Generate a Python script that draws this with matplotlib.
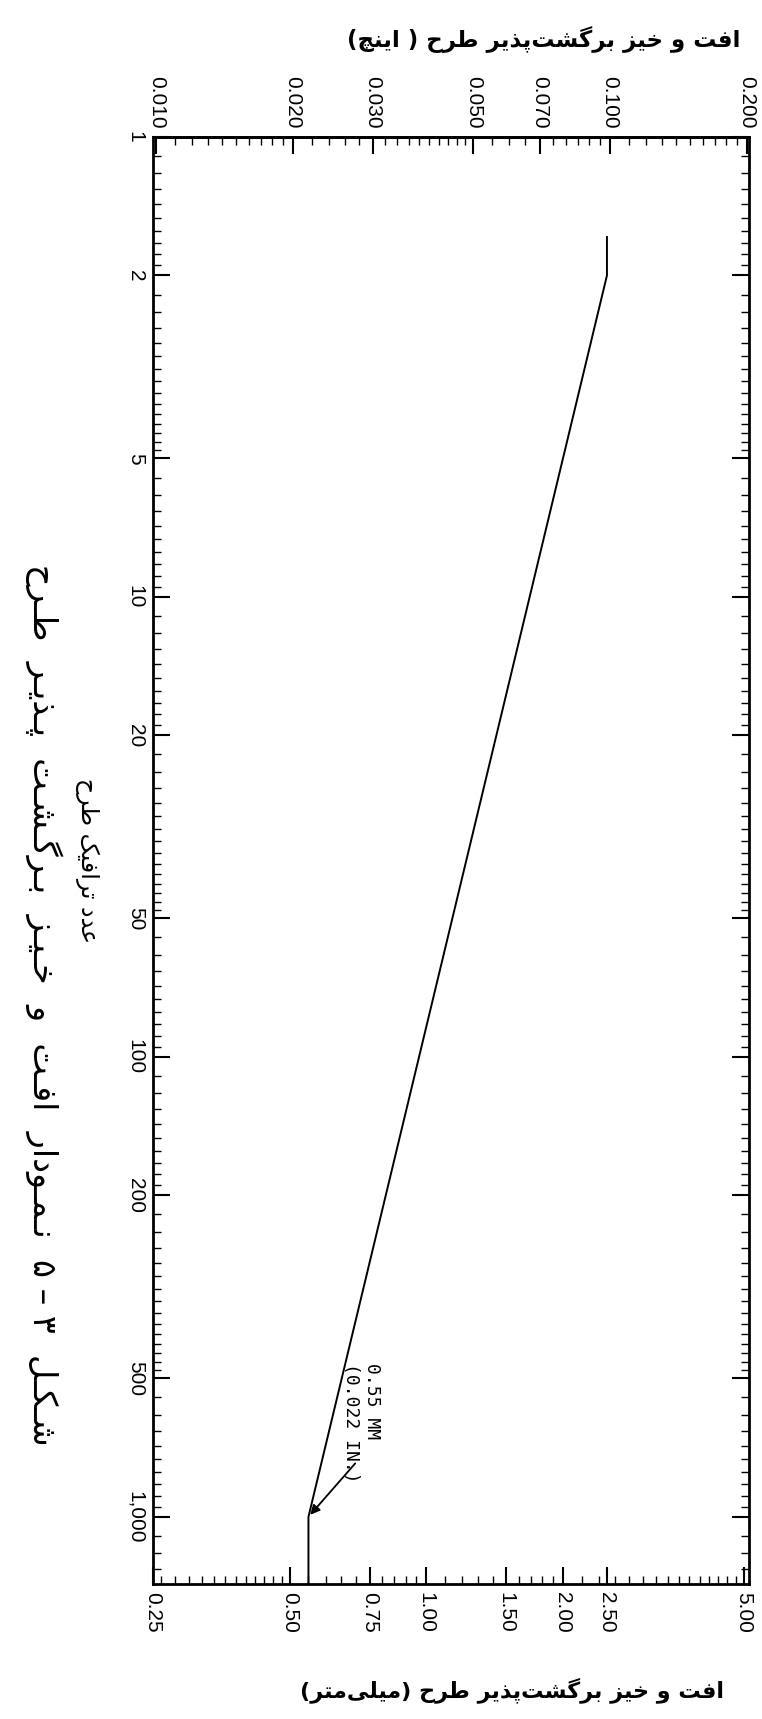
import numpy as np
import matplotlib.pyplot as plt
from matplotlib.ticker import FixedLocator, FixedFormatter, NullFormatter

# منحنی طرح: عدد ترافیک و افت و خیز (میلی‌متر)
traffic = [1.65, 2, 1000, 1400]
deflection_mm = [2.5, 2.5, 0.55, 0.55]

traffic_ticks = [1, 2, 5, 10, 20, 50, 100, 200, 500, 1000]
traffic_labels = ['1', '2', '5', '10', '20', '50', '100', '200', '500', '1,000']
mm_ticks = [0.25, 0.5, 0.75, 1.0, 1.5, 2.0, 2.5, 5.0]
mm_labels = ['0.25', '0.50', '0.75', '1.00', '1.50', '2.00', '2.50', '5.00']
inch_ticks = [0.010, 0.020, 0.030, 0.050, 0.070, 0.100, 0.200]
inch_labels = ['0.010', '0.020', '0.030', '0.050', '0.070', '0.100', '0.200']

title_top = 'افت و خیز برگشت\u200cپذیر طرح ( اینچ)'
title_bottom = 'افت و خیز برگشت\u200cپذیر طرح (میلی\u200cمتر)'
ylabel = 'عدد ترافیک طرح'
caption = 'شکل  ۳ – ۵  نمودار  افت  و  خیز  برگشت  پذیر  طرح'

# شکل‌های حروف (تنها، پایانی، آغازی، میانی)
FORMS = {
    'ا': ('\uFE8D', '\uFE8E', None, None),
    'ب': ('\uFE8F', '\uFE90', '\uFE91', '\uFE92'),
    'پ': ('\uFB56', '\uFB57', '\uFB58', '\uFB59'),
    'ت': ('\uFE95', '\uFE96', '\uFE97', '\uFE98'),
    'چ': ('\uFB7A', '\uFB7B', '\uFB7C', '\uFB7D'),
    'ح': ('\uFEA1', '\uFEA2', '\uFEA3', '\uFEA4'),
    'خ': ('\uFEA5', '\uFEA6', '\uFEA7', '\uFEA8'),
    'د': ('\uFEA9', '\uFEAA', None, None),
    'ذ': ('\uFEAB', '\uFEAC', None, None),
    'ر': ('\uFEAD', '\uFEAE', None, None),
    'ز': ('\uFEAF', '\uFEB0', None, None),
    'ش': ('\uFEB5', '\uFEB6', '\uFEB7', '\uFEB8'),
    'ط': ('\uFEC1', '\uFEC2', '\uFEC3', '\uFEC4'),
    'ع': ('\uFEC9', '\uFECA', '\uFECB', '\uFECC'),
    'ف': ('\uFED1', '\uFED2', '\uFED3', '\uFED4'),
    'ک': ('\uFB8E', '\uFB8F', '\uFB90', '\uFB91'),
    'گ': ('\uFB92', '\uFB93', '\uFB94', '\uFB95'),
    'ل': ('\uFEDD', '\uFEDE', '\uFEDF', '\uFEE0'),
    'م': ('\uFEE1', '\uFEE2', '\uFEE3', '\uFEE4'),
    'ن': ('\uFEE5', '\uFEE6', '\uFEE7', '\uFEE8'),
    'و': ('\uFEED', '\uFEEE', None, None),
    'ی': ('\uFBFC', '\uFBFD', '\uFBFE', '\uFBFF'),
}


def fa(s, kashida=False):
    # چیدن حروف فارسی برای matplotlib (شکل حروف + راست به چپ)
    out = []
    for i, ch in enumerate(s):
        if ch not in FORMS:
            out.append(ch)
            continue
        prev = s[i - 1] if i > 0 else ''
        nxt = s[i + 1] if i + 1 < len(s) else ''
        jp = prev in FORMS and FORMS[prev][2] is not None
        jn = FORMS[ch][2] is not None and nxt in FORMS
        iso, fin, ini, med = FORMS[ch]
        out.append(med if jp and jn else fin if jp else ini if jn else iso)
        if kashida and jn:
            out.append('\u0640')
    vis = ''.join(reversed(out)).replace('\u200c', '')
    return vis.translate({ord('('): ')', ord(')'): '('})


def ruler(lo, hi):
    ticks = []
    for e in range(-3, 4):
        d = 10.0 ** e
        for m in list(np.arange(1.1, 2.0, 0.1)) + list(np.arange(2.2, 5.0, 0.2)) + list(np.arange(5.5, 10.0, 0.5)):
            v = m * d
            if lo <= v <= hi:
                ticks.append(v)
    return ticks


plt.rcParams['font.family'] = ['Liberation Sans', 'DejaVu Sans']

fig = plt.figure(figsize=(7.62, 17.19), dpi=100)
ax = fig.add_axes([0.2008, 0.0785, 0.7822, 0.8418])

ax.plot(deflection_mm, traffic, color='black', lw=1.4)

ax.set_xscale('log')
ax.set_yscale('log')
ax.set_xlim(0.25, 5.14)
ax.set_ylim(1400, 1)

for s in ax.spines.values():
    s.set_linewidth(2)

# محور عدد ترافیک
ax.yaxis.set_major_locator(FixedLocator(traffic_ticks))
ax.yaxis.set_major_formatter(FixedFormatter(traffic_labels))
ax.yaxis.set_minor_locator(FixedLocator(ruler(1, 1400)))
ax.yaxis.set_minor_formatter(NullFormatter())
ax.tick_params(axis='y', which='both', direction='in', left=True, right=True)
ax.tick_params(axis='y', which='major', length=12, width=1.5, labelsize=15, labelrotation=-90, pad=6)
ax.tick_params(axis='y', which='minor', length=6, width=1)
for lab in ax.get_yticklabels():
    lab.set_va('center')

# محور میلی‌متر (پایین)
ax.xaxis.set_major_locator(FixedLocator(mm_ticks))
ax.xaxis.set_major_formatter(FixedFormatter(mm_labels))
ax.xaxis.set_minor_locator(FixedLocator(ruler(0.25, 5.14)))
ax.xaxis.set_minor_formatter(NullFormatter())
ax.tick_params(axis='x', which='both', direction='in', top=False)
ax.tick_params(axis='x', which='major', length=12, width=1.5, labelsize=15, labelrotation=-90, pad=6)
ax.tick_params(axis='x', which='minor', length=6, width=1)

# محور اینچ (بالا)
sec = ax.secondary_xaxis('top', functions=(lambda x: x / 25.4, lambda x: x * 25.4))
sec.xaxis.set_major_locator(FixedLocator(inch_ticks))
sec.xaxis.set_major_formatter(FixedFormatter(inch_labels))
sec.xaxis.set_minor_locator(FixedLocator(ruler(0.0098, 0.21)))
sec.xaxis.set_minor_formatter(NullFormatter())
sec.tick_params(axis='x', which='both', direction='in')
sec.tick_params(axis='x', which='major', length=12, width=1.5, labelsize=15, labelrotation=-90, pad=6)
sec.tick_params(axis='x', which='minor', length=6, width=1)
sec.spines['top'].set_linewidth(2)

ax.set_ylabel(fa(ylabel), rotation=-90, fontsize=17, family='DejaVu Sans', va='center', ha='center')
ax.yaxis.set_label_coords(-0.111, 0.5)

ax.text(-0.183, 0.40, fa(caption, kashida=True), transform=ax.transAxes, rotation=-90, fontsize=24,
        family='DejaVu Sans', va='center', ha='center')

# یادداشت نقطه پایانی
ax.annotate('', xy=(deflection_mm[2], traffic[2]), xytext=(35, 40), textcoords='offset points',
            arrowprops=dict(arrowstyle='-|>', color='black', lw=1.3, mutation_scale=14))
ax.annotate('0.55 MM\n(0.022 IN.)', xy=(deflection_mm[2], traffic[2]), xytext=(38, 68),
            textcoords='offset points', rotation=-90, fontsize=13, family='DejaVu Sans Mono',
            ha='center', va='center', multialignment='left')

fig.text(740 / 762, 1 - 40 / 1719, fa(title_top), fontsize=16.5, family='DejaVu Sans',
         fontweight='bold', ha='right', va='center')
fig.text(724 / 762, 1 - 1690 / 1719, fa(title_bottom), fontsize=16, family='DejaVu Sans',
         fontweight='bold', ha='right', va='center')

fig.savefig('out.png', dpi=100, facecolor='white')
